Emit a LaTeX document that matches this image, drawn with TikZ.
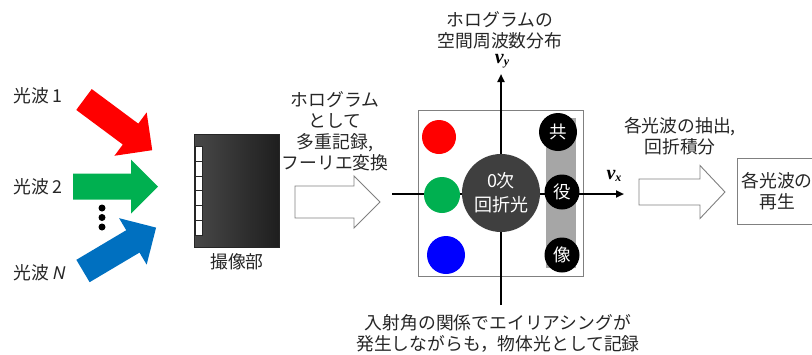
\documentclass[tikz,border=0pt]{standalone}
\usepackage{fontspec}
\setmainfont{Noto Sans CJK JP}
\newfontfamily\latinsf{Noto Sans}
\newfontfamily\tnr{Liberation Serif}
\usetikzlibrary{arrows.meta}
\definecolor{rred}{HTML}{FF0000}
\definecolor{ggreen}{HTML}{00B050}
\definecolor{bblue}{HTML}{0070C0}
\definecolor{pblue}{HTML}{0000FF}
\definecolor{zgray}{HTML}{3F3F3F}
\definecolor{barg}{HTML}{A6A6A6}
\definecolor{camL}{HTML}{484848}
\definecolor{camR}{HTML}{1E1E1E}
\definecolor{hgray}{HTML}{808080}
\definecolor{tgray}{HTML}{262626}
\newcommand\fatarrow[4]{\fill[#4, shift={(#1,#2)}, rotate=#3] (0,-13) -- (58,-13) -- (58,-27) -- (85,0) -- (58,27) -- (58,13) -- (0,13) -- cycle;}
\newcommand\vlab[1]{{\fontsize{20}{20}\selectfont\tnr\bfseries\itshape v}\raisebox{-0.4ex}{\fontsize{12}{12}\selectfont\tnr\bfseries\itshape #1}}
\begin{document}
\begin{tikzpicture}[x=1pt,y=-1pt,
  txt/.style={font=\fontsize{17.8}{21}\selectfont, text=tgray, inner sep=0pt, align=center},
  hollow/.style={draw=hgray, line width=0.9pt, fill=white, line join=miter},
  axisline/.style={line width=2.4pt, -{Triangle[length=8pt,width=7pt]}},
  dot/.style={circle, inner sep=0pt, minimum size=#1},
  cjkw/.style={text=white, font=\fontsize{17.5}{21}\selectfont}]
\useasboundingbox (0,0) rectangle (812,354);
\clip (0,0) rectangle (812,354);

% incoming light waves
\fatarrow{84}{99.5}{-36.6}{rred}
\fatarrow{73}{186.7}{0}{ggreen}
\fatarrow{83}{271}{30.7}{bblue}
\node[txt, anchor=west] (w1) at (13,96) {光波 1};
\node[txt, anchor=west] (w2) at (13,187) {光波 2};
\node[txt, anchor=west] (wn) at (13,273) {光波 {\latinsf\itshape N}};
\foreach \yy [count=\k] in {208,217.5,227}
  \node[dot=7pt, fill=black] (d\k) at (102,\yy) {};

% camera
\node[draw=black!85, line width=0.6pt, left color=camL, right color=camR, minimum width=85pt, minimum height=113pt, inner sep=0pt, anchor=north west] (cam) at (194,134) {};
\foreach \i in {0,...,5}
  \node[draw=black!85, line width=0.6pt, fill=white, minimum width=7pt, minimum height=14.8pt, inner sep=0pt, anchor=north west] (sq\i) at (195,146+\i*14.8) {};
\node[txt] (camlab) at (237,262) {撮像部};

% hollow arrow 1
\draw[hollow] (295,186) -- (354,186) -- (354,176) -- (380,202) -- (354,228) -- (354,218) -- (295,218) -- cycle;
\node[txt] (holo) at (335,131) {ホログラム\\として\\多重記録,\\フーリエ変換};

% spatial frequency plane
\node[draw=hgray, line width=0.8pt, fill=white, minimum width=165pt, minimum height=166pt, inner sep=0pt, anchor=north west] (frame) at (418,110) {};
\coordinate (yb) at (501,305);
\coordinate (yt) at (501,74);
\coordinate (xl) at (392,194);
\coordinate (xr) at (624,194);
\draw[axisline] (yb) -- (yt);
\draw[axisline] (xl) -- (xr);
\node[inner sep=0pt] (vy) at (502,61) {\vlab{y}};
\node[inner sep=0pt] (vx) at (614,176) {\vlab{x}};
\node[txt] (title) at (500,30) {ホログラムの\\空間周波数分布};

\node[fill=barg, minimum width=30pt, minimum height=150pt, inner sep=0pt, anchor=north west] (bar) at (546,118) {};
\node[dot=34pt, fill=rred] (cr) at (439,137) {};
\node[dot=36pt, fill=ggreen] (cg) at (442,195) {};
\node[dot=38pt, fill=pblue] (cb) at (446,255) {};
\node[dot=78pt, fill=zgray, text=white, font=\fontsize{18}{24}\selectfont, align=center] (zero) at (501,193) {0次\\回折光};
\node[dot=38pt, fill=black, cjkw] (k1) at (558,132) {共};
\node[dot=35pt, fill=black, cjkw] (k2) at (562,192) {役};
\node[dot=35pt, fill=black, cjkw] (k3) at (562,255) {像};

\node[txt] (note) at (498,333) {入射角の関係でエイリアシングが\\発生しながらも，物体光として記録};

% hollow arrow 2
\draw[hollow] (639,179) -- (700,179) -- (700,165.5) -- (725,192) -- (700,218.5) -- (700,205) -- (639,205) -- cycle;
\node[txt] (extract) at (680,136) {各光波の抽出,\\回折積分};

% output box
\node[draw=hgray, line width=0.8pt, fill=white, minimum width=84pt, minimum height=66pt, inner sep=0pt, anchor=north west] (out) at (737,158) {};
\node[txt] (outlab) at (777,191) {各光波の\\再生};
\end{tikzpicture}
\end{document}
